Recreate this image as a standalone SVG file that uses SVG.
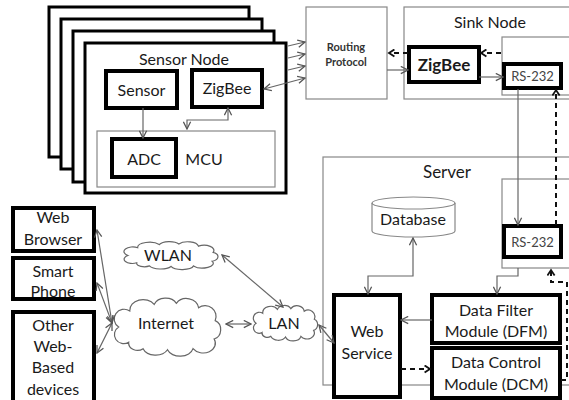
<svg xmlns="http://www.w3.org/2000/svg" xmlns:xlink="http://www.w3.org/1999/xlink" width="569" height="400" viewBox="0 0 569 400">
  <style>
    text { font-family: Lato, "Liberation Sans", sans-serif; fill: #1a1a1a; text-anchor: middle; }
    .t16 { font-size: 16px; }
    .small { font-size: 11px; font-weight: bold; fill: #333; }
    .rs { font-size: 13px; fill: #444; }
    .stack { fill: #fff; stroke: #000; stroke-width: 3; }
    .thick { fill: #fff; stroke: #000; stroke-width: 4; }
    .thin { fill: #fff; stroke: #888; stroke-width: 1.2; }
    .thinnf { fill: none; stroke: #888; stroke-width: 1.2; }
    .wire { fill: none; stroke: #666; stroke-width: 1.2; marker-end: url(#arr); }
    .both { marker-start: url(#arr); }
    .dash { fill: none; stroke: #111; stroke-width: 2; stroke-dasharray: 5 4; marker-end: url(#darr); }
    .cloud { fill: #fff; stroke: #666; stroke-width: 1.2; vector-effect: non-scaling-stroke; }
  </style>
  <defs>
    <marker id="arr" viewBox="0 0 10 10" refX="9" refY="5" markerWidth="9" markerHeight="9" markerUnits="userSpaceOnUse" orient="auto-start-reverse">
      <path d="M1,1 L9,5 L1,9" fill="none" stroke="#555" stroke-width="1.4"/>
    </marker>
    <marker id="darr" viewBox="0 0 10 10" refX="8" refY="5" markerWidth="9" markerHeight="9" markerUnits="userSpaceOnUse" orient="auto">
      <path d="M2,1 L8,5 L2,9" fill="none" stroke="#111" stroke-width="2"/>
    </marker>
    <path id="cloud" class="cloud" d="M15,40 A8,8 0 0 1 6,26 A9,9 0 0 1 16,11 A12,10 0 0 1 38,5 A11,9 0 0 1 58,4 A11,10 0 0 1 78,8 A10,10 0 0 1 93,20 A8,9 0 0 1 92,37 A11,9 0 0 1 73,46 A12,9 0 0 1 50,47 A12,9 0 0 1 28,46 A8,7 0 0 1 15,40 Z"/>
  </defs>

  <!-- stacked sensor nodes (back copies mostly hidden) -->
  <g id="sensor-node-4">
    <rect class="stack" x="49" y="7" width="200" height="150"/>
  </g>
  <g id="sensor-node-3">
    <rect class="stack" x="61" y="19" width="201" height="150"/>
  </g>
  <g id="sensor-node-2">
    <rect class="stack" x="73" y="31" width="201" height="151"/>
  </g>
  <g id="sensor-node">
    <rect class="stack" x="85" y="43" width="201" height="150"/>
    <text class="t16" x="184" y="65">Sensor Node</text>
    <g id="mcu">
      <rect class="thin" x="97" y="131" width="178" height="56"/>
      <text class="t16" x="204" y="165">MCU</text>
    </g>
    <g id="sensor">
      <rect class="thick" x="106" y="71" width="71" height="37"/>
      <text class="t16" x="141.5" y="96">Sensor</text>
    </g>
    <g id="zigbee-node">
      <rect class="thick" x="192" y="70" width="70" height="37"/>
      <text class="t16" x="227" y="94">ZigBee</text>
    </g>
    <g id="adc">
      <rect class="thick" x="112" y="139" width="64" height="38"/>
      <text class="t16" x="144" y="165">ADC</text>
    </g>
  </g>

  <!-- routing -->
  <g id="routing">
    <rect class="thin" x="306" y="7" width="81" height="92"/>
    <text class="small" x="346" y="51">Routing</text>
    <text class="small" x="346" y="66">Protocol</text>
  </g>

  <!-- sink node -->
  <g id="sink-node">
    <rect class="thin" x="404" y="7" width="175" height="92"/>
    <text class="t16" x="490" y="28">Sink Node</text>
    <rect class="thin" x="502" y="37" width="80" height="58"/>
    <g id="sink-zigbee">
      <rect class="thick" x="409" y="47" width="70" height="35"/>
      <text x="444" y="71" style="font-size:17px;font-weight:bold">ZigBee</text>
    </g>
    <g id="sink-rs232">
      <rect class="thick" x="504" y="64" width="57" height="24"/>
      <text class="rs" x="532.5" y="81">RS-232</text>
    </g>
  </g>

  <!-- server -->
  <g id="server">
    <rect class="thin" x="323" y="157" width="260" height="228"/>
    <text x="447" y="178" style="font-size:17px">Server</text>
    <rect class="thin" x="502" y="179" width="80" height="89"/>
    <g id="database">
      <path class="thin" d="M372,203 A41.5,6 0 0 1 455,203 L455,231 A41.5,6 0 0 1 372,231 Z"/>
      <path class="thinnf" d="M372,203 A41.5,6 0 0 0 455,203"/>
      <text class="t16" x="413" y="225">Database</text>
    </g>
    <g id="server-rs232">
      <rect class="thick" x="504" y="226" width="57" height="31"/>
      <text class="rs" x="532.5" y="247">RS-232</text>
    </g>
    <g id="web-service">
      <rect class="thick" x="334" y="295" width="66" height="102"/>
      <text class="t16" x="367" y="337">Web</text>
      <text class="t16" x="367" y="359">Service</text>
    </g>
    <g id="dfm">
      <rect class="thick" x="432" y="295" width="128" height="48"/>
      <text class="t16" x="496" y="316">Data Filter</text>
      <text class="t16" x="496" y="337">Module (DFM)</text>
    </g>
    <g id="dcm">
      <rect class="thick" x="432" y="348" width="128" height="50"/>
      <text class="t16" x="496" y="368">Data Control</text>
      <text class="t16" x="496" y="390">Module (DCM)</text>
    </g>
  </g>

  <!-- client devices -->
  <g id="web-browser">
    <rect class="thick" x="13" y="208" width="81" height="43"/>
    <text class="t16" x="53" y="223">Web</text>
    <text class="t16" x="53" y="245">Browser</text>
  </g>
  <g id="smart-phone">
    <rect class="thick" x="13" y="258" width="81" height="41"/>
    <text class="t16" x="53" y="277">Smart</text>
    <text class="t16" x="53" y="297">Phone</text>
  </g>
  <g id="other-devices">
    <rect class="thick" x="13" y="312" width="81" height="95"/>
    <text class="t16" x="53" y="331">Other</text>
    <text class="t16" x="53" y="352">Web-</text>
    <text class="t16" x="53" y="373">Based</text>
    <text class="t16" x="53" y="395">devices</text>
  </g>

  <!-- networks -->
  <g id="wlan">
    <use xlink:href="#cloud" transform="translate(122,242) scale(0.98,0.52)"/>
    <text class="t16" x="168" y="261">WLAN</text>
  </g>
  <g id="internet">
    <use xlink:href="#cloud" transform="translate(112,299) scale(1.11,1.08)"/>
    <text class="t16" x="166" y="329">Internet</text>
  </g>
  <g id="lan">
    <use xlink:href="#cloud" transform="translate(252,306) scale(0.67,0.66)"/>
    <text class="t16" x="284" y="329">LAN</text>
  </g>

  <!-- connectors -->
  <g id="connectors">
    <path class="wire" d="M143,108 L143,138"/>
    <path class="wire both" d="M187,129 L187,120 L228,120 L228,108"/>
    <path class="wire" d="M288,46 L305,42"/>
    <path class="wire" d="M288,58 L305,54"/>
    <path class="wire" d="M288,70 L305,66"/>
    <path class="wire both" d="M264,89 L305,78"/>

    <path class="dash" d="M501,53 L481,53"/>
    <path class="dash" d="M408,53 L389,53"/>
    <path class="wire" d="M387,70 L408,70"/>
    <path class="wire" d="M479,77 L503,77"/>

    <path class="wire" d="M518,89 L518,225"/>
    <path class="dash" d="M556,225 L556,90"/>

    <path class="wire both" d="M413,238 L413,276 L368,276 L368,294"/>
    <path class="wire" d="M518,268 L518,276 L497,276 L497,294"/>
    <path class="wire" d="M432,320 L401,320"/>
    <path class="dash" d="M401,369 L430,369"/>
    <path class="dash" d="M561,380 L567,380 L567,282 L551,282 L551,270"/>

    <path class="wire both" d="M97,230 L112,323"/>
    <path class="wire both" d="M97,283 L112,323"/>
    <path class="wire both" d="M97,353 L112,323"/>
    <path class="wire both" d="M222,255 L283,307"/>
    <path class="wire both" d="M226,324 L251,324"/>
    <path class="wire both" d="M319,325 L334,343"/>
  </g>
</svg>
